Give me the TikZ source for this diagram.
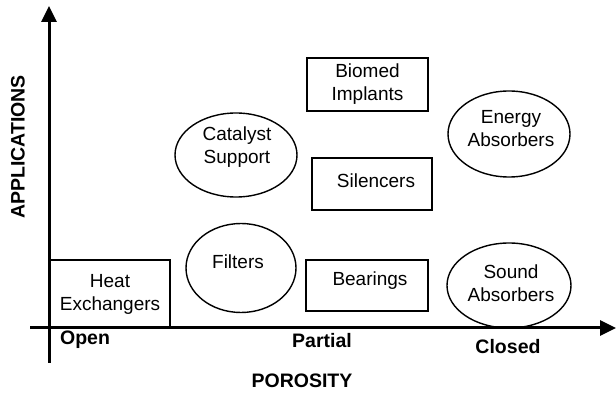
\documentclass[tikz,border=0pt]{standalone}
\usepackage{fontspec}
\setmainfont{Liberation Sans}
\usetikzlibrary{shapes.geometric,arrows.meta}
\begin{document}
\begin{tikzpicture}[x=1pt,y=-1pt,
  box/.style={draw,line width=1.4pt,inner sep=0pt},
  ell/.style={draw,ellipse,line width=1.4pt,inner sep=0pt},
  txt/.style={align=center,font=\fontsize{19}{23}\selectfont,inner sep=0pt},
  lbl/.style={font=\fontsize{19.5}{22}\selectfont\bfseries,inner sep=0pt},
  axisline/.style={line width=3pt,-{Triangle[length=16pt,width=15pt]}}]
\useasboundingbox (0,0) rectangle (616,395);
% boxes
\node[box,minimum width=121pt,minimum height=68pt] (hx) at (109.5,294) {};
\node[txt] (hxt) at (110,294) {Heat\\Exchangers};
\node[box,minimum width=121pt,minimum height=53pt] (bio) at (367.5,84.5) {};
\node[txt] (biot) at (367.5,84.5) {Biomed\\Implants};
\node[box,minimum width=120pt,minimum height=52pt] (sil) at (372,184) {};
\node[txt] (silt) at (376,181) {Silencers};
\node[box,minimum width=122pt,minimum height=51pt] (bea) at (367,285.5) {};
\node[txt] (beat) at (370,281) {Bearings};
% ellipses
\node[ell,minimum width=122pt,minimum height=84pt] (cat) at (236,155) {};
\node[txt] (catt) at (237,147) {Catalyst\\Support};
\node[ell,minimum width=110pt,minimum height=89pt] (fil) at (241,268) {};
\node[txt] (filt) at (238,262) {Filters};
\node[ell,minimum width=122pt,minimum height=86pt] (ene) at (509,134) {};
\node[txt] (enet) at (511,129) {Energy\\Absorbers};
\node[ell,minimum width=124pt,minimum height=85pt] (snd) at (509,285.5) {};
\node[txt] (sndt) at (511,283) {Sound\\Absorbers};
% axes
\coordinate (xs) at (30,328);
\coordinate (xe) at (616,328);
\coordinate (ys) at (49,363);
\coordinate (ye) at (49,6);
\draw[axisline] (xs) -- (xe);
\draw[axisline] (ys) -- (ye);
% axis labels
\node[lbl] (open) at (85,340) {Open};
\node[lbl] (part) at (322,341) {Partial};
\node[lbl] (clos) at (508,347) {Closed};
\node[lbl] (por) at (302,381) {POROSITY};
\node[lbl,rotate=90] (app) at (18,147) {APPLICATIONS};
\end{tikzpicture}
\end{document}
